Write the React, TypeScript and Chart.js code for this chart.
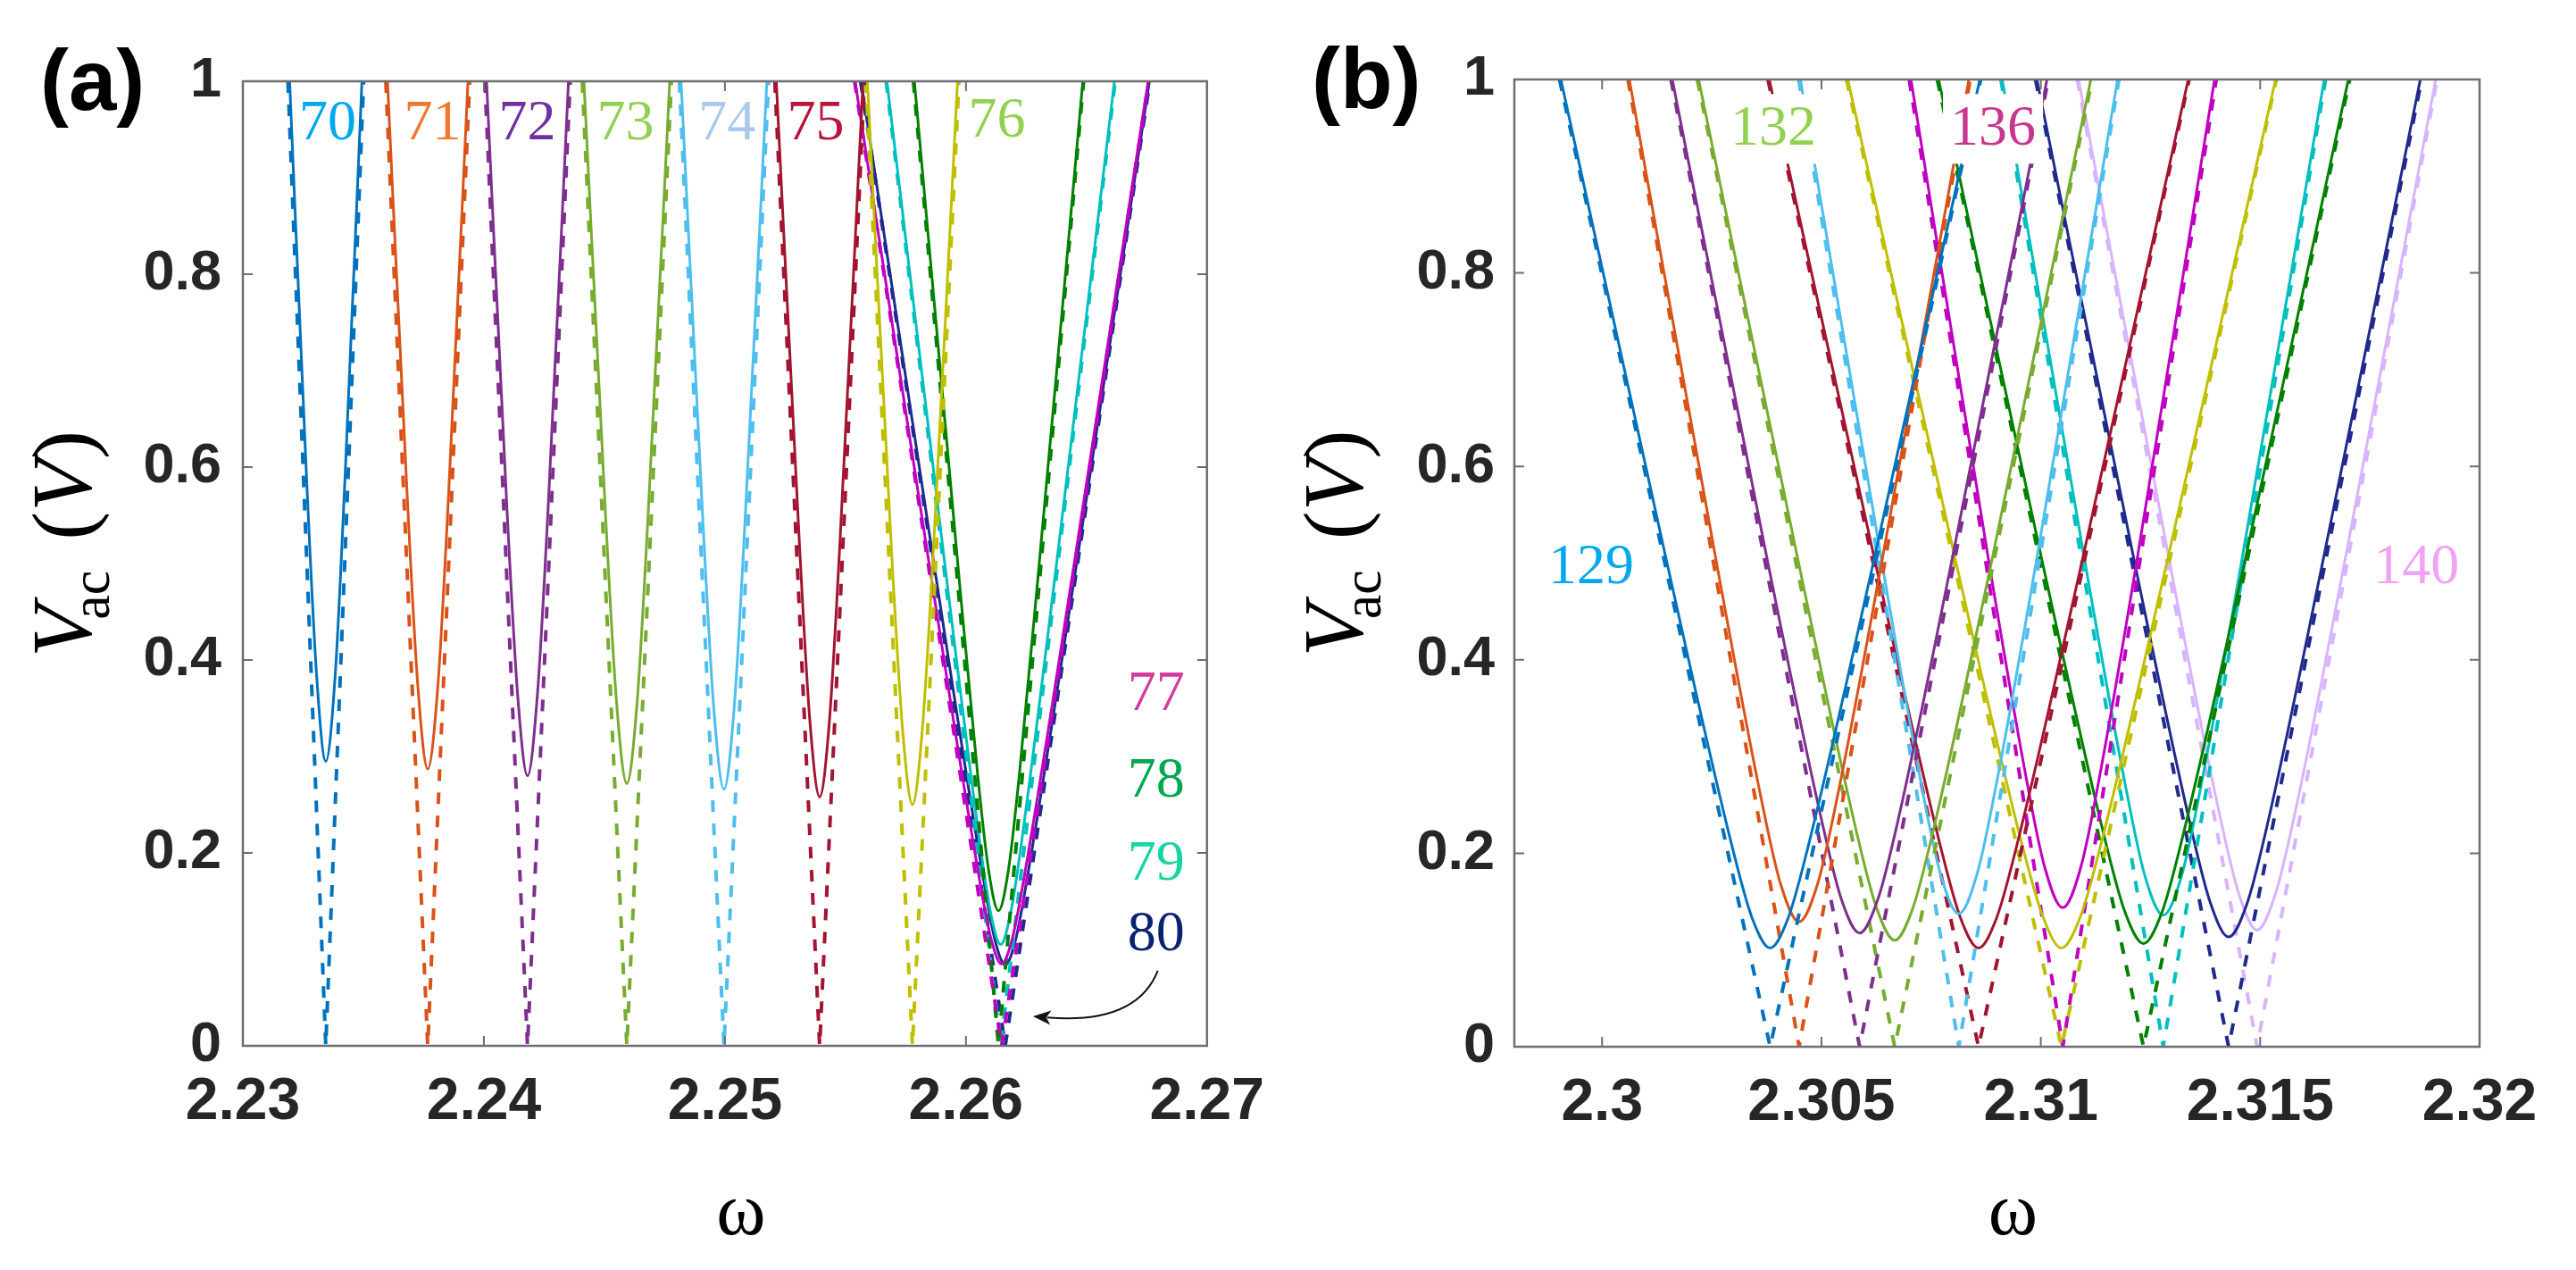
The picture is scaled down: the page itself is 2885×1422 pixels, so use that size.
import React, { useEffect, useRef } from "react";
import { Chart, registerables } from "chart.js";

Chart.register(...registerables);

// ---------------- Panel (a) data ----------------
const modesA = [70, 71, 72, 73, 74, 75, 76, 77, 78, 79, 80];
const xTicksA = [2.23, 2.24, 2.25, 2.26, 2.27];
const yTicks = [0, 0.2, 0.4, 0.6, 0.8, 1];

const solidOmegaA: number[][] = [
  [2.23194, 2.23264, 2.23306, 2.23344, 2.23383, 2.23424, 2.23494],
  [2.236, 2.23681, 2.23726, 2.23767, 2.23809, 2.23854, 2.23934],
  [2.24011, 2.24095, 2.2414, 2.24181, 2.24222, 2.24267, 2.24351],
  [2.24415, 2.24506, 2.24551, 2.24593, 2.24635, 2.2468, 2.24771],
  [2.24818, 2.24911, 2.24955, 2.24996, 2.25037, 2.25081, 2.25174],
  [2.25213, 2.2531, 2.25353, 2.25393, 2.25433, 2.25476, 2.25573],
  [2.25591, 2.25694, 2.25738, 2.25778, 2.25818, 2.25862, 2.25965],
  [2.2554, 2.25847, 2.26058, 2.26105, 2.26148, 2.26191, 2.26238, 2.26449, 2.26756],
  [2.25786, 2.25966, 2.26049, 2.26094, 2.26135, 2.26176, 2.26221, 2.26304, 2.26485],
  [2.25672, 2.25912, 2.26058, 2.26103, 2.26144, 2.26185, 2.2623, 2.26376, 2.26616],
  [2.25565, 2.25867, 2.26076, 2.26121, 2.26163, 2.26205, 2.2625, 2.26459, 2.26761],
];
const solidVA: number[][] = [
  [1, 0.59, 0.384, 0.295, 0.384, 0.59, 1],
  [1, 0.574, 0.373, 0.287, 0.373, 0.574, 1],
  [1, 0.56, 0.364, 0.28, 0.364, 0.56, 1],
  [1, 0.544, 0.354, 0.272, 0.354, 0.544, 1],
  [1, 0.532, 0.346, 0.266, 0.346, 0.532, 1],
  [1, 0.516, 0.335, 0.258, 0.335, 0.516, 1],
  [1, 0.5, 0.325, 0.25, 0.325, 0.5, 1],
  [1, 0.5, 0.17, 0.11, 0.085, 0.11, 0.17, 0.5, 1],
  [1, 0.5, 0.28, 0.182, 0.14, 0.182, 0.28, 0.5, 1],
  [1, 0.5, 0.21, 0.137, 0.105, 0.137, 0.21, 0.5, 1],
  [1, 0.5, 0.168, 0.109, 0.084, 0.109, 0.168, 0.5, 1],
];
const dashOmegaA: number[][] = [
  [2.23187, 2.23344, 2.23501],
  [2.23593, 2.23767, 2.23941],
  [2.24004, 2.24181, 2.24358],
  [2.24408, 2.24593, 2.24778],
  [2.24811, 2.24996, 2.25181],
  [2.25207, 2.25393, 2.25579],
  [2.25585, 2.25778, 2.25971],
  [2.25538, 2.26148, 2.26758],
  [2.25782, 2.26135, 2.26488],
  [2.25669, 2.26144, 2.26619],
  [2.25563, 2.26163, 2.26763],
];
const dashV = [1, 0, 1];

const lineColorsA = ["#0072BD", "#D95319", "#7E2F8E", "#77AC30", "#4DBEEE", "#A2142F", "#BFBF00", "#C000C0", "#008000", "#00BFBF", "#1F2A8C"];

const labelTextsA = ["70", "71", "72", "73", "74", "75", "76", "77", "78", "79", "80"];
const labelOmegaA = [2.23352, 2.23787, 2.2418, 2.24587, 2.25009, 2.25376, 2.26128, 2.26789, 2.26789, 2.26789, 2.26789];
const labelVA = [0.9556, 0.9556, 0.9556, 0.9556, 0.9556, 0.9556, 0.958, 0.364, 0.274, 0.188, 0.115];
const labelColorsA = ["#00A8EC", "#EE7A30", "#7030A0", "#92D050", "#A9C9EA", "#B8143C", "#92D050", "#D43AA0", "#00A850", "#18D4A4", "#0A2270"];

// curved arrow: start, control, tip (omega, V)
const arrowA: number[][] = [
  [2.26796, 0.078],
  [2.26707, 0.022],
  [2.26278, 0.0306],
];

// ---------------- Panel (b) data ----------------
const modesB = [129, 130, 131, 132, 133, 134, 135, 136, 137, 138, 139, 140];
const xTicksB = [2.3, 2.305, 2.31, 2.315, 2.32];

const solidOmegaB: number[][] = [
  [2.29906, 2.30148, 2.30298, 2.30342, 2.30383, 2.30424, 2.30468, 2.30618, 2.30861],
  [2.30062, 2.30261, 2.30362, 2.30407, 2.30449, 2.30491, 2.30536, 2.30637, 2.30836],
  [2.3016, 2.30378, 2.305, 2.30545, 2.30587, 2.30629, 2.30675, 2.30796, 2.31014],
  [2.3022, 2.30448, 2.30581, 2.30626, 2.30667, 2.30708, 2.30753, 2.30887, 2.31114],
  [2.30452, 2.30638, 2.30726, 2.30771, 2.30813, 2.30855, 2.309, 2.30989, 2.31175],
  [2.30381, 2.30623, 2.30773, 2.30817, 2.30858, 2.30899, 2.30943, 2.31093, 2.31336],
  [2.3056, 2.30807, 2.3096, 2.31006, 2.31047, 2.31089, 2.31134, 2.31287, 2.31535],
  [2.30704, 2.30882, 2.30963, 2.31008, 2.3105, 2.31092, 2.31137, 2.31218, 2.31396],
  [2.30767, 2.31004, 2.31147, 2.31192, 2.31234, 2.31276, 2.31321, 2.31464, 2.31701],
  [2.30912, 2.31101, 2.31192, 2.31237, 2.31279, 2.31321, 2.31366, 2.31457, 2.31646],
  [2.30991, 2.31214, 2.31342, 2.31387, 2.31428, 2.3147, 2.31515, 2.31642, 2.31865],
  [2.31086, 2.31294, 2.31407, 2.31452, 2.31493, 2.31534, 2.31579, 2.31692, 2.319],
];
const solidVB: number[][] = [
  [1, 0.5, 0.204, 0.133, 0.102, 0.133, 0.204, 0.5, 1],
  [1, 0.5, 0.258, 0.168, 0.129, 0.168, 0.258, 0.5, 1],
  [1, 0.5, 0.235, 0.153, 0.1175, 0.153, 0.235, 0.5, 1],
  [1, 0.5, 0.22, 0.143, 0.11, 0.143, 0.22, 0.5, 1],
  [1, 0.5, 0.275, 0.179, 0.1375, 0.179, 0.275, 0.5, 1],
  [1, 0.5, 0.204, 0.133, 0.102, 0.133, 0.204, 0.5, 1],
  [1, 0.5, 0.204, 0.133, 0.102, 0.133, 0.204, 0.5, 1],
  [1, 0.5, 0.287, 0.187, 0.1437, 0.187, 0.287, 0.5, 1],
  [1, 0.5, 0.213, 0.139, 0.1067, 0.139, 0.213, 0.5, 1],
  [1, 0.5, 0.272, 0.177, 0.136, 0.177, 0.272, 0.5, 1],
  [1, 0.5, 0.227, 0.148, 0.1135, 0.148, 0.227, 0.5, 1],
  [1, 0.5, 0.241, 0.157, 0.1206, 0.157, 0.241, 0.5, 1],
];
const dashOmegaB: number[][] = [
  [2.29903, 2.30383, 2.30863],
  [2.30059, 2.30449, 2.30839],
  [2.30157, 2.30587, 2.31017],
  [2.30217, 2.30667, 2.31117],
  [2.30448, 2.30813, 2.31178],
  [2.30378, 2.30858, 2.31338],
  [2.30557, 2.31047, 2.31537],
  [2.307, 2.3105, 2.314],
  [2.30764, 2.31234, 2.31704],
  [2.30909, 2.31279, 2.31649],
  [2.30988, 2.31428, 2.31868],
  [2.31083, 2.31493, 2.31903],
];

const lineColorsB = ["#0072BD", "#D95319", "#7E2F8E", "#77AC30", "#4DBEEE", "#A2142F", "#BFBF00", "#C000C0", "#008000", "#00BFBF", "#1F2A8C", "#D9B3FF"];

const labelTextsB = ["129", "132", "136", "140"];
const labelOmegaB = [2.29975, 2.3039, 2.30891, 2.31856];
const labelVB = [0.495, 0.948, 0.948, 0.495];
const labelColorsB = ["#00A8EC", "#92D050", "#C8378E", "#F2A2F2"];

// ---------------- layout / style ----------------
const SERIF = '"Liberation Serif", "Times New Roman", serif';
const SANS = '"Liberation Sans", Arial, sans-serif';
const BOX = "#6e6e6e";
const TICKTXT = "#262626";

type Panel = {
  tag: string;
  left: number;
  width: number;
  padTop: number;
  padRight: number;
  yAxisW: number;
  xAxisH: number;
  xMin: number;
  xMax: number;
  xTicks: number[];
  modes: number[];
  colors: string[];
  solidOmega: number[][];
  solidV: number[][];
  dashOmega: number[][];
  labelTexts: string[];
  labelOmega: number[];
  labelV: number[];
  labelColors: string[];
  labelBg: boolean;
  arrow: number[][] | null;
  tickPad: number;
};

const panels: Panel[] = [
  {
    tag: "(a)", left: 0, width: 1440, padTop: 91, padRight: 88, yAxisW: 272, xAxisH: 251,
    xMin: 2.23, xMax: 2.27, xTicks: xTicksA, modes: modesA, colors: lineColorsA,
    solidOmega: solidOmegaA, solidV: solidVA, dashOmega: dashOmegaA,
    labelTexts: labelTextsA, labelOmega: labelOmegaA, labelV: labelVA, labelColors: labelColorsA,
    labelBg: false, arrow: arrowA, tickPad: 24,
  },
  {
    tag: "(b)", left: 1440, width: 1445, padTop: 89, padRight: 108, yAxisW: 256, xAxisH: 250,
    xMin: 2.298, xMax: 2.32, xTicks: xTicksB, modes: modesB, colors: lineColorsB,
    solidOmega: solidOmegaB, solidV: solidVB, dashOmega: dashOmegaB,
    labelTexts: labelTextsB, labelOmega: labelOmegaB, labelV: labelVB, labelColors: labelColorsB,
    labelBg: true, arrow: null, tickPad: 22,
  },
];

function decorPlugin(p: Panel) {
  return {
    id: "decor",
    afterDatasetsDraw(chart: any) {
      const { ctx, chartArea: a, scales } = chart;
      const xs = scales.x;
      const ys = scales.y;
      ctx.save();

      // mode labels
      ctx.font = `64px ${SERIF}`;
      ctx.textAlign = "center";
      ctx.textBaseline = "middle";
      p.labelTexts.forEach((t, i) => {
        const px = xs.getPixelForValue(p.labelOmega[i]);
        const py = ys.getPixelForValue(p.labelV[i]);
        if (p.labelBg) {
          const w = ctx.measureText(t).width;
          ctx.fillStyle = "#ffffff";
          ctx.fillRect(px - w / 2 - 8, py - 40, w + 16, 78);
        }
        ctx.fillStyle = p.labelColors[i];
        ctx.fillText(t, px, py);
      });

      // arrow
      if (p.arrow) {
        const P = p.arrow.map((q) => [xs.getPixelForValue(q[0]), ys.getPixelForValue(q[1])]);
        ctx.strokeStyle = "#111";
        ctx.fillStyle = "#111";
        ctx.lineWidth = 2;
        const dx = P[2][0] - P[1][0];
        const dy = P[2][1] - P[1][1];
        const len = Math.hypot(dx, dy);
        const ux = dx / len;
        const uy = dy / len;
        const hl = 20;
        const hw = 8;
        const bx = P[2][0] - ux * hl;
        const by = P[2][1] - uy * hl;
        ctx.beginPath();
        ctx.moveTo(P[0][0], P[0][1]);
        ctx.quadraticCurveTo(P[1][0], P[1][1], bx + ux * 4, by + uy * 4);
        ctx.stroke();
        ctx.beginPath();
        ctx.moveTo(P[2][0], P[2][1]);
        ctx.lineTo(bx - uy * hw, by + ux * hw);
        ctx.lineTo(bx + ux * 5, by + uy * 5);
        ctx.lineTo(bx + uy * hw, by - ux * hw);
        ctx.closePath();
        ctx.fill();
      }

      // box and inward ticks
      ctx.strokeStyle = BOX;
      ctx.lineWidth = 2.5;
      ctx.strokeRect(a.left, a.top, a.right - a.left, a.bottom - a.top);
      ctx.lineWidth = 2;
      ctx.beginPath();
      p.xTicks.forEach((v) => {
        const px = xs.getPixelForValue(v);
        if (px <= a.left + 2 || px >= a.right - 2) return;
        ctx.moveTo(px, a.bottom);
        ctx.lineTo(px, a.bottom - 11);
        ctx.moveTo(px, a.top);
        ctx.lineTo(px, a.top + 11);
      });
      yTicks.forEach((v) => {
        const py = ys.getPixelForValue(v);
        if (py <= a.top + 2 || py >= a.bottom - 2) return;
        ctx.moveTo(a.left, py);
        ctx.lineTo(a.left + 11, py);
        ctx.moveTo(a.right, py);
        ctx.lineTo(a.right - 11, py);
      });
      ctx.stroke();

      // panel tag
      ctx.fillStyle = "#000";
      ctx.textAlign = "left";
      ctx.textBaseline = "alphabetic";
      ctx.font = `bold 96px ${SANS}`;
      ctx.fillText(p.tag, a.left - 227, a.top + 32);

      // x title: omega
      ctx.font = `84px ${SERIF}`;
      ctx.textAlign = "center";
      ctx.fillText("ω", (a.left + a.right) / 2 + 18, 1382);

      // y title: V_ac (V)
      const big = 96;
      const sub = 62;
      ctx.textAlign = "left";
      ctx.font = `italic ${big}px ${SERIF}`;
      const vW = ctx.measureText("V").width;
      ctx.font = `${sub}px ${SERIF}`;
      const acW = ctx.measureText("ac").width;
      ctx.font = `${big}px ${SERIF}`;
      const lpW = ctx.measureText("(").width;
      const rpW = ctx.measureText(")").width;
      const acStart = vW * 0.72;
      const parStart = acStart + acW + 34;
      const total = parStart + lpW + vW + rpW;
      const cy = (a.top + a.bottom) / 2 - 22;
      ctx.translate(a.left - 170, cy + total / 2);
      ctx.rotate(-Math.PI / 2);
      ctx.font = `italic ${big}px ${SERIF}`;
      ctx.fillText("V", 0, 0);
      ctx.font = `${sub}px ${SERIF}`;
      ctx.fillText("ac", acStart, 20);
      ctx.font = `${big}px ${SERIF}`;
      ctx.fillText("(", parStart, 0);
      ctx.font = `italic ${big}px ${SERIF}`;
      ctx.fillText("V", parStart + lpW, 0);
      ctx.font = `${big}px ${SERIF}`;
      ctx.fillText(")", parStart + lpW + vW, 0);

      ctx.restore();
    },
  };
}

function buildDatasets(p: Panel) {
  const ds: any[] = [];
  p.modes.forEach((m, i) => {
    ds.push({
      label: `${m} solid`,
      data: p.solidOmega[i].map((x, j) => ({ x, y: p.solidV[i][j] })),
      borderColor: p.colors[i],
      borderWidth: 3,
      pointRadius: 0,
      fill: false,
      cubicInterpolationMode: "monotone",
    });
    ds.push({
      label: `${m} dashed`,
      data: p.dashOmega[i].map((x, j) => ({ x, y: dashV[j] })),
      borderColor: p.colors[i],
      borderWidth: 4,
      borderDash: [13, 13],
      pointRadius: 0,
      fill: false,
      tension: 0,
    });
  });
  return ds;
}

function PanelChart({ p }: { p: Panel }) {
  const ref = useRef<HTMLCanvasElement | null>(null);
  useEffect(() => {
    if (!ref.current) return;
    const chart = new Chart(ref.current, {
      type: "line",
      data: { datasets: buildDatasets(p) },
      options: {
        animation: false,
        responsive: false,
        devicePixelRatio: 1,
        events: [],
        layout: { padding: { top: p.padTop, right: p.padRight, left: 0, bottom: 0 } },
        plugins: { legend: { display: false }, tooltip: { enabled: false } },
        scales: {
          x: {
            type: "linear",
            min: p.xMin,
            max: p.xMax,
            grid: { display: false, drawTicks: false },
            border: { display: false },
            ticks: {
              font: { family: SANS, size: 66, weight: "bold" },
              color: TICKTXT,
              padding: 24,
              maxRotation: 0,
              autoSkip: false,
              callback: (v: any) => String(v),
            },
            afterBuildTicks: (s: any) => {
              s.ticks = p.xTicks.map((v) => ({ value: v }));
            },
            afterFit: (s: any) => {
              s.height = p.xAxisH;
            },
          },
          y: {
            type: "linear",
            min: 0,
            max: 1,
            grid: { display: false, drawTicks: false },
            border: { display: false },
            ticks: {
              font: { family: SANS, size: 63, weight: "bold" },
              color: TICKTXT,
              padding: p.tickPad,
              autoSkip: false,
              callback: (v: any) => String(v),
            },
            afterBuildTicks: (s: any) => {
              s.ticks = yTicks.map((v) => ({ value: v }));
            },
            afterFit: (s: any) => {
              s.width = p.yAxisW;
            },
          },
        },
      } as any,
      plugins: [decorPlugin(p)],
    });
    return () => chart.destroy();
  }, [p]);
  return (
    <canvas
      ref={ref}
      width={p.width}
      height={1422}
      style={{ position: "absolute", left: p.left, top: 0, width: p.width, height: 1422 }}
    />
  );
}

export default function App() {
  return (
    <div style={{ position: "absolute", left: 0, top: 0, width: 2885, height: 1422, background: "#ffffff", overflow: "hidden" }}>
      {panels.map((p) => (
        <PanelChart key={p.tag} p={p} />
      ))}
    </div>
  );
}
